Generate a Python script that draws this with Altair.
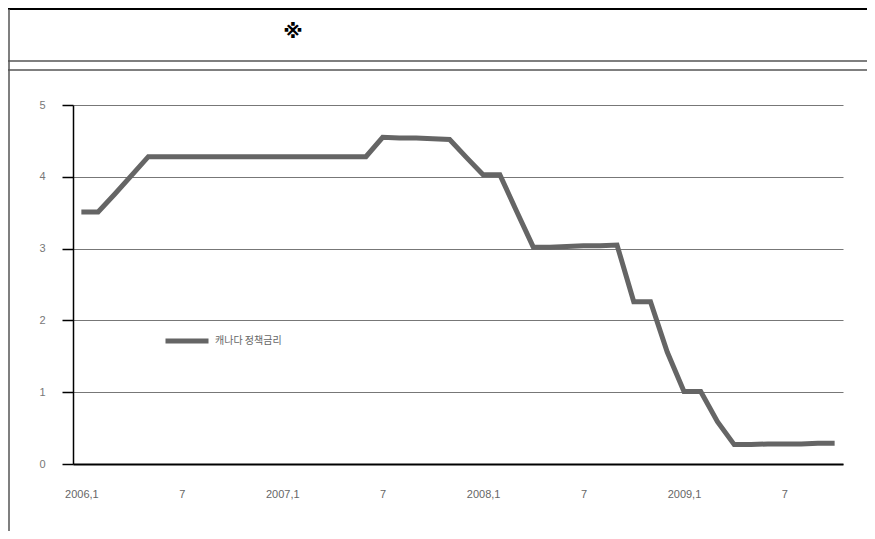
import altair as alt
import pandas as pd

# ---- data -------------------------------------------------------------
years = [2006, 2007, 2008, 2009]
months = [f"{y}-{m:02d}" for y in years for m in range(1, 13)][:46]  # 2006-01 .. 2009-10
rates = [
    3.51, 3.51, 3.76, 4.02, 4.28,                      # 2006.1 - 2006.5
    4.28, 4.28, 4.28, 4.28, 4.28, 4.28, 4.28,          # 2006.6 - 2006.12
    4.28, 4.28, 4.28, 4.28, 4.28, 4.28,                # 2007.1 - 2007.6
    4.55, 4.54, 4.54, 4.53, 4.52, 4.27,                # 2007.7 - 2007.12
    4.03, 4.03, 3.52, 3.02, 3.02, 3.03,                # 2008.1 - 2008.6
    3.04, 3.04, 3.05, 2.26, 2.26, 1.56,                # 2008.7 - 2008.12
    1.01, 1.01, 0.59, 0.27, 0.27, 0.28,                # 2009.1 - 2009.6
    0.28, 0.28, 0.29, 0.29,                            # 2009.7 - 2009.10
]
series_name = "캐나다 정책금리"
tick_months = ["2006-01", "2006-07", "2007-01", "2007-07",
               "2008-01", "2008-07", "2009-01", "2009-07"]
y_ticks = [0, 1, 2, 3, 4, 5]
header_symbol = "※"

df = pd.DataFrame({"month": months, "rate": rates, "series": [series_name] * len(months)})
one = pd.DataFrame({"k": [0]})

W, H = 770, 359
PAD = {"left": 65, "top": 97, "right": 24, "bottom": 67}
TOTAL_W = PAD["left"] + W + PAD["right"]
TOTAL_H = PAD["top"] + H + PAD["bottom"]

label_font = "Liberation Sans Narrow, Liberation Sans, sans-serif"

line = alt.Chart(df).mark_line(strokeWidth=5, strokeJoin="miter").encode(
    x=alt.X(
        "month:O", sort=months,
        scale=alt.Scale(type="point", padding=0.5),
        axis=alt.Axis(
            title=None, values=tick_months, labelAngle=0, ticks=False, grid=False,
            domainColor="black", domainWidth=2, labelPadding=24,
            labelFontSize=11, labelColor="#666", labelFont=label_font,
            labelExpr="split(datum.value,'-')[1]=='01' ? split(datum.value,'-')[0] + ',1' : '7'",
        ),
    ),
    y=alt.Y(
        "rate:Q",
        scale=alt.Scale(domain=[0, 5], nice=False),
        axis=alt.Axis(
            title=None, values=y_ticks, tickSize=11, tickColor="black", tickWidth=1.5,
            domainColor="black", domainWidth=1.5, gridColor="#777", gridWidth=1,
            labelPadding=17, labelColor="#777", labelFontSize=11, labelFont=label_font,
        ),
    ),
    color=alt.Color(
        "series:N",
        scale=alt.Scale(range=["#656565"]),
        legend=alt.Legend(
            title=None, orient="none", legendX=90, legendY=212,
            symbolType="stroke", symbolSize=1849, symbolStrokeWidth=5,
            labelFont="Noto Sans CJK KR", labelFontSize=10, labelColor="#666",
            labelOffset=4,
        ),
    ),
)

# decorative frames (header box and chart box)
def hrule(y, color, width):
    return alt.Chart(one).mark_rule(color=color, strokeWidth=width).encode(
        x=alt.value(-PAD["left"]), x2=alt.value(TOTAL_W - PAD["left"]), y=alt.value(y)
    )

frames = [
    hrule(-96, "black", 2),
    hrule(-44, "#555", 1.5),
    hrule(-35, "#555", 1.5),
    alt.Chart(one).mark_rule(color="#555", strokeWidth=1.5).encode(
        x=alt.value(-PAD["left"] + 1), y=alt.value(-96), y2=alt.value(TOTAL_H - PAD["top"])
    ),
]

symbol = alt.Chart(one).mark_text(
    text=header_symbol, fontSize=20, fontWeight="bold", color="black",
    font="DejaVu Sans", align="center", baseline="middle",
).encode(x=alt.value(220), y=alt.value(-73))

chart = alt.layer(line, *frames, symbol).properties(
    width=W, height=H,
    autosize=alt.AutoSizeParams(type="none"),
    padding=PAD,
).configure_view(stroke=None)

chart.save("out.html", embed_options={"renderer": "svg", "actions": False})
